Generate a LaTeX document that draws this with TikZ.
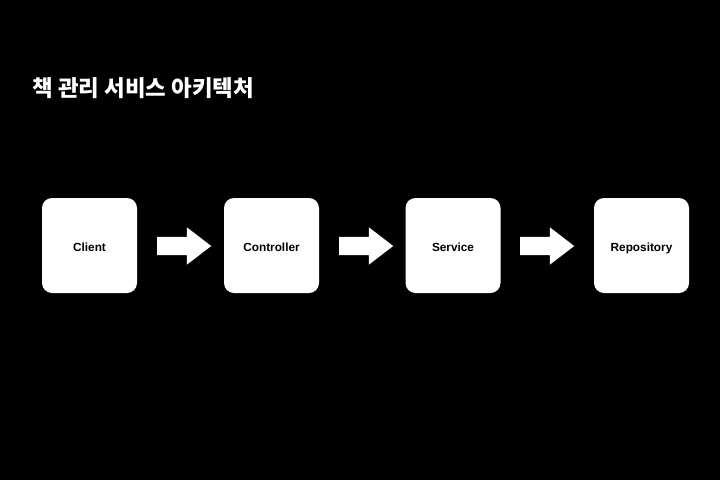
\documentclass[tikz,border=0pt]{standalone}
\usepackage{fontspec}
\setmainfont{Liberation Sans}
\newfontfamily\krfont{Noto Sans CJK KR}
\usetikzlibrary{shapes.arrows}
\begin{document}
\begin{tikzpicture}[
    x=1pt, y=-1pt,
    every node/.style={font=\fontsize{11.8}{14}\selectfont\bfseries, align=center},
    layer/.style={rectangle, fill=white, text=black, rounded corners=10pt,
                  minimum width=95pt, minimum height=95pt, inner sep=0pt,
                  text height=11pt, text depth=0pt},
    flow/.style={single arrow, fill=white, draw=none, inner xsep=0pt, inner ysep=9pt,
                 minimum height=54pt, anchor=west,
                 single arrow head extend=9.5pt, single arrow tip angle=75,
                 single arrow head indent=0pt},
]
    \fill[black] (0,0) rectangle (720,480);
    \node[anchor=west, text=white, font=\krfont\bfseries\fontsize{22.4}{26}\selectfont] (title) at (29, 88) {책 관리 서비스 아키텍처};
    \node[layer] (client) at (89.5, 245.5) {Client};
    \node[layer] (ctrl) at (271.5, 245.5) {Controller};
    \node[layer] (svc) at (453, 245.5) {Service};
    \node[layer] (repo) at (641.5, 245.5) {Repository};
    \node[flow] (a1) at (157, 246) {};
    \node[flow] (a2) at (339, 246) {};
    \node[flow] (a3) at (520, 246) {};
\end{tikzpicture}
\end{document}
